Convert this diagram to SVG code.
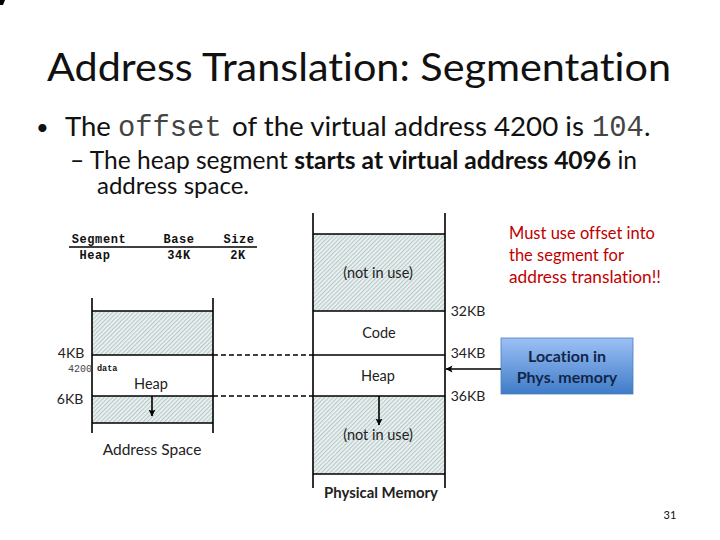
<svg xmlns="http://www.w3.org/2000/svg" width="720" height="540" viewBox="0 0 720 540">
<style>
text{font-family:"Lato","Liberation Sans",sans-serif;fill:#111;font-variant-ligatures:none}
.mono{font-family:"Liberation Mono",monospace;fill:#444}
.fig{font-size:14.5px;fill:#222;text-anchor:middle}
.kb{font-size:14px;fill:#222;text-anchor:middle}
.tb{font-family:"Liberation Mono",monospace;font-size:12px;font-weight:bold;text-anchor:middle;letter-spacing:.6px}
.note{font-size:16.5px;fill:#c00000}
.loc{font-size:16px;font-weight:bold;text-anchor:middle;fill:#12264a}
.ln{stroke:#000;stroke-width:1.6;fill:none}
.dash{stroke:#000;stroke-width:1.5;stroke-dasharray:5 3;fill:none}
.hatch{fill:url(#h)}
</style>
<defs>
<pattern id="h" width="3" height="3" patternUnits="userSpaceOnUse" patternTransform="rotate(-45)">
<rect width="3" height="3" fill="#eef2f2"/><rect width="3" height="1.2" fill="#b7caca"/>
</pattern>
<linearGradient id="blue" x1="0" y1="0" x2="0" y2="1"><stop offset="0" stop-color="#9dc0f5"/><stop offset="1" stop-color="#3f7cc8"/></linearGradient>
<marker id="a" markerWidth="8" markerHeight="8" refX="6.5" refY="3.5" orient="auto" markerUnits="userSpaceOnUse"><path d="M0 0L7 3.5L0 7L1.5 3.5Z" fill="#000"/></marker>
</defs>
<rect width="720" height="540" fill="#fff"/>
<path d="M0 0H5L3 5H0Z" fill="#000"/>
<g id="title"><text x="47" y="81" font-size="39" textLength="624" lengthAdjust="spacingAndGlyphs">Address Translation: Segmentation</text></g>
<g id="bullets">
<text x="36" y="135" font-size="22">•</text>
<text x="65" y="136" font-size="27.5">The</text>
<text class="mono" x="118" y="136" font-size="28.8">offset</text>
<text x="232" y="136" font-size="27.5" textLength="352" lengthAdjust="spacingAndGlyphs">of the virtual address 4200 is</text>
<text class="mono" x="592" y="136" font-size="28.8">104</text>
<text x="644" y="136" font-size="27.5">.</text>
<text x="70" y="169" font-size="24.5" textLength="567" lengthAdjust="spacingAndGlyphs">– The heap segment <tspan font-weight="bold">starts at virtual address 4096</tspan> in</text>
<text x="97" y="194" font-size="24">address space.</text>
</g>
<g id="segment-table">
<text class="tb" x="99" y="243">Segment</text><text class="tb" x="179" y="243">Base</text><text class="tb" x="239" y="243">Size</text>
<path class="ln" d="M69 247H257"/>
<text class="tb" x="95" y="259">Heap</text><text class="tb" x="179" y="259">34K</text><text class="tb" x="238" y="259">2K</text>
</g>
<g id="address-space">
<rect class="hatch" x="92" y="311" width="121" height="44"/>
<rect class="hatch" x="92" y="396" width="121" height="27"/>
<path class="ln" d="M92 298V433M213 298V433M92 311H213M92 355H213M92 396H213M92 423H213"/>
<text class="kb" x="71" y="358">4KB</text>
<text class="kb" x="70" y="404">6KB</text>
<text class="mono" x="68" y="372" font-size="10" textLength="24" lengthAdjust="spacingAndGlyphs">4200</text>
<text class="mono" x="97" y="371" font-size="8.5" font-weight="bold" style="fill:#111">data</text>
<text class="fig" x="151" y="389">Heap</text>
<text class="fig" x="152" y="455" style="font-size:15.5px">Address Space</text>
</g>
<g id="physical-memory">
<rect class="hatch" x="313" y="234" width="132" height="77"/>
<rect class="hatch" x="313" y="396" width="132" height="78"/>
<path class="ln" d="M313 213V488M445 213V488M313 234H445M313 311H445M313 355H445M313 396H445M313 474H445"/>
<text class="fig" x="378" y="278">(not in use)</text>
<text class="fig" x="379" y="338">Code</text>
<text class="fig" x="378" y="381">Heap</text>
<text class="fig" x="378" y="440">(not in use)</text>
<text class="fig" x="381" y="498" style="font-size:15px;font-weight:bold" textLength="114" lengthAdjust="spacingAndGlyphs">Physical Memory</text>
<text class="kb" x="468" y="316">32KB</text>
<text class="kb" x="468" y="358">34KB</text>
<text class="kb" x="468" y="401">36KB</text>
</g>
<g id="location"><rect x="501" y="338" width="132" height="56" fill="url(#blue)" stroke="#4a7ebb" stroke-width=".8"/>
<text class="loc" x="567" y="362">Location in</text>
<text class="loc" x="567" y="383">Phys. memory</text></g>
<g id="note"><text class="note" x="509" y="239">Must use offset into</text>
<text class="note" x="509" y="261">the segment for</text>
<text class="note" x="509" y="283" textLength="152" lengthAdjust="spacingAndGlyphs">address translation!!</text></g>
<g id="connectors">
<path class="dash" d="M213 355H313M213 396H313"/>
<path class="ln" d="M152 396V416" marker-end="url(#a)"/>
<path class="ln" d="M379 396V425" marker-end="url(#a)"/>
<path class="ln" d="M501 369H446" marker-end="url(#a)"/>
</g>
<text x="670" y="519" font-size="11" text-anchor="middle">31</text>
</svg>
